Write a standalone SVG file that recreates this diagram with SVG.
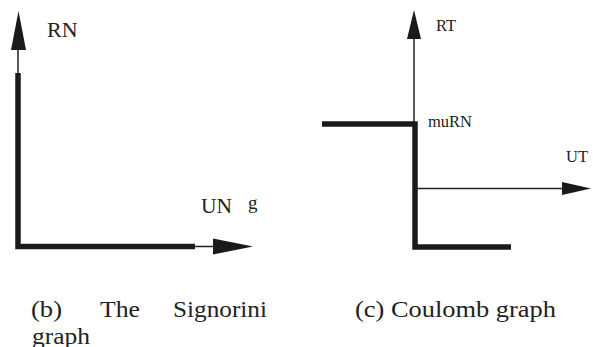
<svg xmlns="http://www.w3.org/2000/svg" width="593" height="347" viewBox="0 0 593 347">
<style>
.thin{stroke:#222;stroke-width:1.5;fill:none}
.thick{stroke:#1a1a1a;stroke-width:5.5;fill:none;stroke-linejoin:miter;stroke-linecap:butt}
.head{fill:#1a1a1a;stroke:none}
.lbl{font-family:"Liberation Serif","Times New Roman",serif;fill:#222}
.cap{font-family:"Liberation Serif","Times New Roman",serif;font-size:23px;fill:#222}
</style>
<rect width="593" height="347" fill="#fff"/>
<g id="signorini">
  <g id="connectors-b">
    <line class="thin" x1="18" y1="75" x2="18" y2="45"/>
    <polygon class="head" points="18.5,11 11,50 26,50"/>
    <path class="thick" d="M18,73 V246.5 H195"/>
    <line class="thin" x1="195" y1="246.5" x2="216" y2="246.5"/>
    <polygon class="head" points="213,238.5 253,246.5 213,254.5"/>
  </g>
  <g id="label-RN"><text class="lbl" x="47" y="37" font-size="22">RN</text></g>
  <g id="label-UN"><text class="lbl" x="201" y="213" font-size="21.5">UN</text></g>
  <g id="label-g"><text class="lbl" x="248" y="209" font-size="19">g</text></g>
</g>
<g id="coulomb">
  <g id="connectors-c">
    <line class="thin" x1="414" y1="36" x2="414" y2="124"/>
    <polygon class="head" points="414,10 407,39 421,39"/>
    <path class="thick" d="M322,124 H415 V247 H511"/>
    <line class="thin" x1="415" y1="188.5" x2="564" y2="188.5"/>
    <polygon class="head" points="562,182 591,188.5 562,195"/>
  </g>
  <g id="label-RT"><text class="lbl" x="436" y="31" font-size="16.5">RT</text></g>
  <g id="label-muRN"><text class="lbl" x="428" y="126.5" font-size="16.5">muRN</text></g>
  <g id="label-UT"><text class="lbl" x="566" y="162" font-size="16.5">UT</text></g>
</g>
<g id="caption-b">
  <text class="cap" x="31" y="317" textLength="31" lengthAdjust="spacingAndGlyphs">(b)</text>
  <text class="cap" x="100" y="317" textLength="40" lengthAdjust="spacingAndGlyphs">The</text>
  <text class="cap" x="173" y="317" textLength="94" lengthAdjust="spacingAndGlyphs">Signorini</text>
  <text class="cap" x="32" y="344" textLength="58" lengthAdjust="spacingAndGlyphs">graph</text>
</g>
<g id="caption-c">
  <text class="cap" x="355" y="317" textLength="201" lengthAdjust="spacingAndGlyphs">(c) Coulomb graph</text>
</g>
</svg>
